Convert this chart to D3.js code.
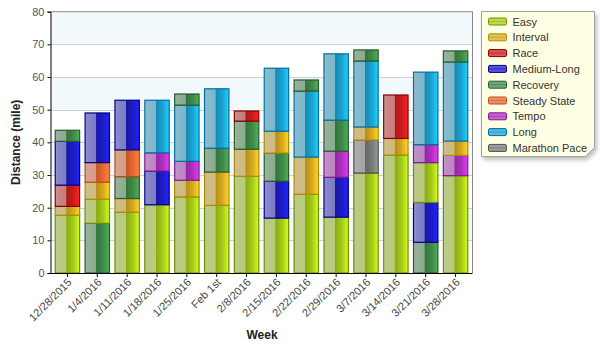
<!DOCTYPE html>
<html><head><meta charset="utf-8">
<script src="https://cdn.jsdelivr.net/npm/d3@7/dist/d3.min.js"></script>
<style>
body{margin:0;background:#fff;}
svg{display:block;font-family:"Liberation Sans",Arial,sans-serif;}
</style></head>
<body><svg id="c" width="600" height="350"></svg>
<script>
const weeks = ["12/28/2015","1/4/2016","1/11/2016","1/18/2016","1/25/2016","Feb 1st","2/8/2016","2/15/2016","2/22/2016","2/29/2016","3/7/2016","3/14/2016","3/21/2016","3/28/2016"];
const seriesNames = ["Easy","Interval","Race","Medium-Long","Recovery","Steady State","Tempo","Long","Marathon Pace"];
const easy         = [17.7, 7.4, 18.6, 20.9, 23.3, 20.7, 29.6, 16.8, 24.1, 17.1, 30.6, 36.1, 12.2, 29.8];
const interval     = [ 2.7, 5.2,  4.2,  0,    5.1, 10.2,  8.3,  6.7, 11.4,  0,    4.0,  5.1,  0,    4.4];
const race         = [ 6.5, 0,    0,    0,    0,    0,    3.1,  0,    0,    0,    0,   13.3,  0,    0];
const mediumLong   = [13.4,15.2, 15.2, 10.3,  0,    0,    0,   11.3,  0,   12.2,  0,    0,   12.2,  0];
const recovery     = [ 3.4,15.2,  6.7,  0,    3.4,  7.3,  8.6,  8.6,  3.4,  9.5,  3.4,  0,    9.4,  3.4];
const steadyState  = [ 0,   6.0,  8.2,  0,    0,    0,    0,    0,    0,    0,    0,    0,    0,    0];
const tempo        = [ 0,   0,    0,    5.6,  5.8,  0,    0,    0,    0,    8.0,  0,    0,    5.5,  6.2];
const long         = [ 0,   0,    0,   16.1, 17.2, 18.2,  0,   19.3, 20.2, 20.3, 20.2,  0,   22.2, 24.2];
const marathonPace = [ 0,   0,    0,    0,    0,    0,    0,    0,    0,    0,   10.1,  0,    0,    0];
// stacking order (bottom to top) of each week's segments
const stackOrder = [
  ["Easy","Interval","Race","Medium-Long","Recovery"],
  ["Recovery","Easy","Interval","Steady State","Medium-Long"],
  ["Easy","Interval","Recovery","Steady State","Medium-Long"],
  ["Easy","Medium-Long","Tempo","Long"],
  ["Easy","Interval","Tempo","Long","Recovery"],
  ["Easy","Interval","Recovery","Long"],
  ["Easy","Interval","Recovery","Race"],
  ["Easy","Medium-Long","Recovery","Interval","Long"],
  ["Easy","Interval","Long","Recovery"],
  ["Easy","Medium-Long","Tempo","Recovery","Long"],
  ["Easy","Marathon Pace","Interval","Long","Recovery"],
  ["Easy","Interval","Race"],
  ["Recovery","Medium-Long","Easy","Tempo","Long"],
  ["Easy","Tempo","Interval","Long","Recovery"]
];
const yTicks = [0,10,20,30,40,50,60,70,80];

const values = {"Easy":easy,"Interval":interval,"Race":race,"Medium-Long":mediumLong,"Recovery":recovery,
  "Steady State":steadyState,"Tempo":tempo,"Long":long,"Marathon Pace":marathonPace};
const colors = {"Easy":"#a6cc18","Interval":"#d8aa20","Race":"#cc1c1c","Medium-Long":"#1c1cc8","Recovery":"#3f8a48",
  "Steady State":"#e86830","Tempo":"#b030c0","Long":"#1aa4d4","Marathon Pace":"#7a7a7a"};
const strokes = {"Easy":"#6f8f00","Interval":"#b08a00","Race":"#8a0000","Medium-Long":"#00008a","Recovery":"#285a2e",
  "Steady State":"#c04a10","Tempo":"#801890","Long":"#0070a0","Marathon Pace":"#505050"};

const svg = d3.select("#c");
const L = 50.5, R = 472.5, T = 11.7, B = 273;
const x = d3.scaleBand().domain(weeks).range([52.5, 470.5]).paddingInner(0.15).paddingOuter(0.075);
const y = d3.scaleLinear().domain([0,80]).range([B, T]);

const defs = svg.append("defs");
seriesNames.forEach((s,i)=>{
  const c = d3.rgb(colors[s]);
  const g = defs.append("linearGradient").attr("id","g"+i).attr("x1","0").attr("x2","1").attr("y1","0").attr("y2","0");
  const mixL = d3.interpolateRgb(c, "#c8c8c8");
  g.append("stop").attr("offset","0").attr("stop-color", mixL(0.72));
  g.append("stop").attr("offset","0.12").attr("stop-color", mixL(0.62));
  g.append("stop").attr("offset","0.44").attr("stop-color", mixL(0.55));
  g.append("stop").attr("offset","0.47").attr("stop-color", c.darker(0.5));
  g.append("stop").attr("offset","0.75").attr("stop-color", c);
  g.append("stop").attr("offset","1").attr("stop-color", c.brighter(0.7));
});
const f = defs.append("filter").attr("id","sh").attr("x","-10%").attr("y","-10%").attr("width","130%").attr("height","130%");
f.append("feDropShadow").attr("dx",2).attr("dy",3).attr("stdDeviation",2).attr("flood-color","#000").attr("flood-opacity",0.25);

// plot background bands
svg.append("rect").attr("x",L).attr("y",T).attr("width",R-L).attr("height",B-T).attr("fill","#fff");
for (let v=10; v<80; v+=20){
  svg.append("rect").attr("x",L).attr("y",y(v+10)).attr("width",R-L).attr("height",y(v)-y(v+10)).attr("fill","#f2f9fd");
}
// grid
svg.append("g").selectAll("line").data(yTicks.filter(d=>d>0&&d<80)).join("line")
  .attr("x1",L).attr("x2",R).attr("y1",d=>Math.round(y(d))+0.5).attr("y2",d=>Math.round(y(d))+0.5)
  .attr("stroke","#d0d0d0").attr("stroke-width",1);
// plot border (top, right)
svg.append("path").attr("d",`M${L},${T}H${R}V${B}`).attr("fill","none").attr("stroke","#888").attr("stroke-width",1);

// bars
const segs = [];
weeks.forEach((w,wi)=>{
  let base = 0;
  stackOrder[wi].forEach(s=>{
    const v = values[s][wi];
    if (v>0){ segs.push({w, s, y0:base, y1:base+v}); base += v; }
  });
});
svg.append("g").selectAll("rect").data(segs).join("rect")
  .attr("x",d=>x(d.w)+0.5).attr("width",x.bandwidth()-1)
  .attr("y",d=>y(d.y1)).attr("height",d=>y(d.y0)-y(d.y1))
  .attr("fill",d=>`url(#g${seriesNames.indexOf(d.s)})`)
  .attr("stroke",d=>strokes[d.s]).attr("stroke-width",1.2);

// axes
const yAxis = svg.append("g").attr("transform",`translate(${L},0)`)
  .call(d3.axisLeft(y).tickValues(yTicks).tickSize(3).tickPadding(3));
yAxis.select(".domain").attr("stroke","#000");
yAxis.selectAll(".tick line").attr("stroke","#000");
yAxis.selectAll("text").attr("font-size",11).attr("fill","#555").attr("font-family","'Liberation Sans',Arial,sans-serif");

const xAxis = svg.append("g").attr("transform",`translate(0,${B})`)
  .call(d3.axisBottom(x).tickSize(4).tickSizeOuter(0));
xAxis.select(".domain").attr("d",`M${L},0.5H${R}`).attr("stroke","#000");
xAxis.selectAll(".tick line").attr("stroke","#000");
xAxis.selectAll("text").attr("font-size",11).attr("fill","#444").attr("font-family","'Liberation Sans',Arial,sans-serif")
  .attr("text-anchor","end").attr("dy",null).attr("y",0)
  .attr("transform","translate(5,10) rotate(-45)");

svg.append("text").attr("x",262).attr("y",339).attr("text-anchor","middle")
  .attr("font-size",12).attr("font-weight","bold").attr("fill","#222").text("Week");
svg.append("text").attr("transform",`translate(20,${(T+B)/2}) rotate(-90)`).attr("text-anchor","middle")
  .attr("font-size",12).attr("font-weight","bold").attr("fill","#222").text("Distance (mile)");

// legend
const lx = 481.5, ly = 11.5, lw = 113, lh = 145, cut = 9;
svg.append("path")
  .attr("d",`M${lx},${ly}H${lx+lw}V${ly+lh-cut}L${lx+lw-cut},${ly+lh}H${lx}Z`)
  .attr("fill","#ffffe3").attr("stroke","#a0a0a0").attr("stroke-width",1).attr("filter","url(#sh)");
const li = svg.append("g").selectAll("g").data(seriesNames).join("g")
  .attr("transform",(d,i)=>`translate(${lx+7},${ly+10+i*15.8})`);
li.append("rect").attr("x",0).attr("y",-3.5).attr("width",18).attr("height",7).attr("rx",1.5)
  .attr("fill",(d,i)=>{const c=d3.rgb(colors[d]); return d3.interpolateRgb(c,"#ffffff")(0.25);})
  .attr("stroke",d=>strokes[d]).attr("stroke-width",1);
li.append("line").attr("x1",1).attr("x2",17).attr("y1",0).attr("y2",0)
  .attr("stroke",d=>d3.rgb(colors[d]).darker(0.2)).attr("stroke-width",1).attr("opacity",0.7);
li.append("text").attr("x",24).attr("y",4).attr("font-size",11).attr("fill","#333").text(d=>d);
</script></body></html>
